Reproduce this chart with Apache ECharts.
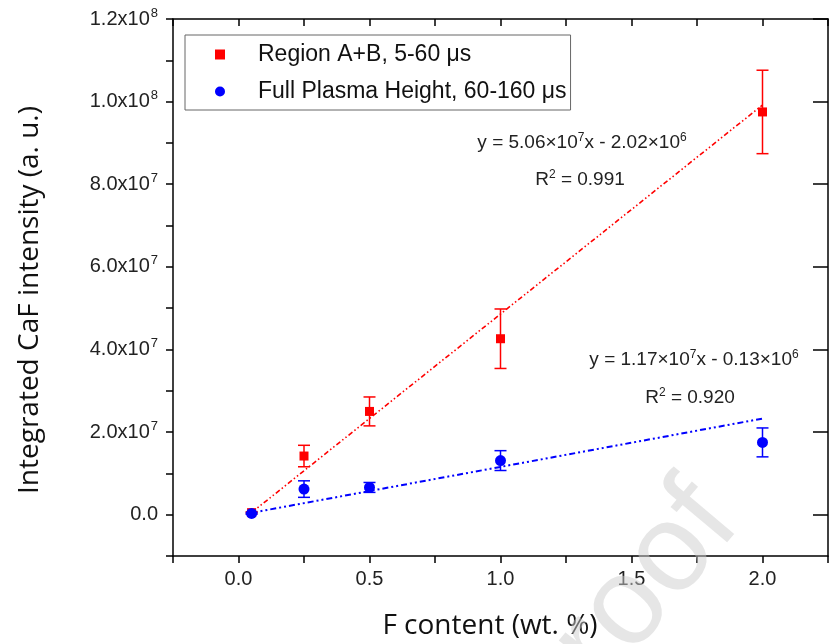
<!DOCTYPE html>
<html>
<head>
<meta charset="utf-8">
<script src="https://cdn.jsdelivr.net/npm/echarts@6/dist/echarts.min.js"></script>
<style>
  html, body { margin: 0; padding: 0; background: #fff; }
  #chart { width: 831px; height: 644px; }
</style>
</head>
<body>
<div id="chart"></div>
<script>
// F content (wt. %) of each sample
const fContent = [0.05, 0.25, 0.5, 1.0, 2.0];

// Region A+B, 5-60 µs
const regionAB = [0.05e7, 1.42e7, 2.50e7, 4.26e7, 9.75e7];
const regionABErr = [0.02e7, 0.26e7, 0.35e7, 0.72e7, 1.01e7];

// Full plasma height, 60-160 µs
const fullPlasma = [0.03e7, 0.62e7, 0.66e7, 1.31e7, 1.75e7];
const fullPlasmaErr = [0.02e7, 0.20e7, 0.12e7, 0.24e7, 0.35e7];

// Linear fits: [slope, intercept]
const fitAB = [5.06e7, -2.02e6];
const fitFull = [1.17e7, -0.13e6];
const fitRange = [0.05, 2.0];

// Labelled intensity ticks
const yMajorTicks = [0, 2e7, 4e7, 6e7, 8e7, 1e8, 1.2e8];

const seriesNames = ['Region A+B, 5-60 \u03bcs', 'Full Plasma Height, 60-160 \u03bcs'];

const RED = '#ff0000';
const BLUE = '#0000ff';
const TICK_FONT = '"Liberation Sans", Arial, sans-serif';
const TITLE_FONT = '"Open Sans", "Noto Sans", sans-serif';

function pts(xs, ys) { return xs.map((x, i) => [x, ys[i]]); }
function errPts(xs, ys, es) { return xs.map((x, i) => [x, ys[i], es[i]]); }
function fitLine(fit) { return fitRange.map(x => [x, fit[0] * x + fit[1]]); }

function yLabel(v) {
  if (yMajorTicks.indexOf(v) < 0) return '';
  if (v === 0) return '{m|0.0}';
  const exp = Math.floor(Math.log10(Math.abs(v)) + 1e-9);
  const mant = (v / Math.pow(10, exp)).toFixed(1);
  return '{m|' + mant + 'x10}{s|' + exp + '}';
}

function errorBar(color, cap) {
  return function (params, api) {
    const x = api.value(0), y = api.value(1), e = api.value(2);
    const top = api.coord([x, y + e]);
    const bot = api.coord([x, y - e]);
    const style = { stroke: color, lineWidth: 1.5, fill: null };
    return {
      type: 'group',
      children: [
        { type: 'line', shape: { x1: top[0], y1: top[1], x2: bot[0], y2: bot[1] }, style },
        { type: 'line', shape: { x1: top[0] - cap, y1: top[1], x2: top[0] + cap, y2: top[1] }, style },
        { type: 'line', shape: { x1: bot[0] - cap, y1: bot[1], x2: bot[0] + cap, y2: bot[1] }, style }
      ]
    };
  };
}

// Equation text with superscript exponents
const eqRich = {
  n: { fontFamily: TICK_FONT, fontSize: 19, fill: '#222' },
  s: { fontFamily: TICK_FONT, fontSize: 12, fill: '#222', verticalAlign: 'bottom', padding: [0, 0, 11, 0] }
};
function eqText(x, y, text) {
  return { type: 'text', x, y, style: { text, align: 'center', verticalAlign: 'middle', rich: eqRich } };
}

const axisLineStyle = { color: '#000', width: 1.5 };

const chart = echarts.init(document.getElementById('chart'), null, { renderer: 'canvas' });

chart.setOption({
  animation: false,
  backgroundColor: '#fff',
  grid: { left: 173, top: 19, right: -10, bottom: 88 },
  legend: {
    orient: 'vertical',
    left: 185,
    top: 35,
    padding: [8, 4, 7, 30],
    itemGap: 14,
    itemWidth: 10,
    itemHeight: 10,
    borderColor: '#666',
    borderWidth: 1,
    borderRadius: 0,
    data: [
      { name: seriesNames[0], icon: 'rect' },
      { name: seriesNames[1], icon: 'circle' }
    ],
    textStyle: { fontFamily: TICK_FONT, fontSize: 23, color: '#111', padding: [0, 0, 0, 28] }
  },
  xAxis: [
    {
      type: 'value', position: 'bottom', min: -0.25, max: 2.25, interval: 0.25,
      axisLine: { onZero: false, lineStyle: axisLineStyle },
      axisTick: { inside: false, length: 7, lineStyle: { color: '#000', width: 1.5 } },
      splitLine: { show: false },
      axisLabel: {
        margin: 13, fontFamily: TICK_FONT, fontSize: 20, color: '#222',
        formatter: v => (Math.abs(v * 2 - Math.round(v * 2)) < 1e-6 && v >= 0 && v <= 2) ? v.toFixed(1) : ''
      }
    },
    {
      type: 'value', position: 'top', min: -0.25, max: 2.25, interval: 0.25,
      axisLine: { onZero: false, lineStyle: axisLineStyle },
      axisTick: { inside: true, length: 7, lineStyle: { color: '#000', width: 1.5 } },
      axisLabel: { show: false }, splitLine: { show: false }
    }
  ],
  yAxis: [
    {
      type: 'value', position: 'left', min: -1e7, max: 1.2e8, interval: 1e7,
      axisLine: { onZero: false, lineStyle: axisLineStyle },
      axisTick: { inside: false, length: 7, lineStyle: { color: '#000', width: 1.5 } },
      splitLine: { show: false },
      axisLabel: {
        margin: 15, fontFamily: TICK_FONT, fontSize: 20, color: '#222',
        formatter: yLabel,
        rich: {
          m: { fontFamily: TICK_FONT, fontSize: 20, color: '#222' },
          s: { fontFamily: TICK_FONT, fontSize: 13, color: '#222', verticalAlign: 'bottom', padding: [0, 0, 12, 1] }
        }
      }
    },
    {
      type: 'value', position: 'right', min: -1e7, max: 1.2e8, interval: 1e7,
      axisLine: { onZero: false, lineStyle: axisLineStyle },
      axisTick: { inside: true, length: 15, customValues: yMajorTicks, lineStyle: { color: '#000', width: 1.5 } },
      axisLabel: { show: false }, splitLine: { show: false }
    }
  ],
  graphic: [
    {
      type: 'text', x: 30, y: 300, rotation: Math.PI / 2,
      style: {
        text: 'Integrated CaF intensity (a. u.)', fontFamily: TITLE_FONT, fontSize: 28,
        fill: '#111', align: 'center', verticalAlign: 'middle'
      }
    },
    {
      type: 'text', x: 490, y: 626,
      style: {
        text: 'F content (wt. %)', fontFamily: TITLE_FONT, fontSize: 28,
        fill: '#111', align: 'center', verticalAlign: 'middle'
      }
    },
    eqText(582, 143, '{n|y = 5.06\u00d710}{s|7}{n|x - 2.02\u00d710}{s|6}'),
    eqText(580, 180, '{n|R}{s|2}{n| = 0.991}'),
    eqText(694, 360, '{n|y = 1.17\u00d710}{s|7}{n|x - 0.13\u00d710}{s|6}'),
    eqText(690, 398, '{n|R}{s|2}{n| = 0.920}'),
    {
      type: 'text', x: 716, y: 502, rotation: 50 * Math.PI / 180, z: 100,
      style: {
        text: 'Proof', fontFamily: TICK_FONT, fontSize: 125,
        fill: 'rgba(205,205,205,0.5)', align: 'right', verticalAlign: 'middle'
      }
    }
  ],
  series: [
    {
      name: seriesNames[0] + ' fit', type: 'line', data: fitLine(fitAB), symbol: 'none', silent: true,
      lineStyle: { color: RED, width: 1.6, type: [5, 2.5, 1.5, 2.5, 1.5, 2.5] }, z: 2
    },
    {
      name: seriesNames[1] + ' fit', type: 'line', data: fitLine(fitFull), symbol: 'none', silent: true,
      lineStyle: { color: BLUE, width: 2, type: [6, 3, 2, 3, 2, 3] }, z: 2
    },
    {
      name: seriesNames[0] + ' err', type: 'custom', data: errPts(fContent, regionAB, regionABErr),
      renderItem: errorBar(RED, 6), encode: { x: 0, y: 1 }, z: 3
    },
    {
      name: seriesNames[1] + ' err', type: 'custom', data: errPts(fContent, fullPlasma, fullPlasmaErr),
      renderItem: errorBar(BLUE, 6), encode: { x: 0, y: 1 }, z: 3
    },
    {
      name: seriesNames[0], type: 'scatter', data: pts(fContent, regionAB),
      symbol: 'rect', symbolSize: 9, itemStyle: { color: RED, opacity: 1 }, z: 4
    },
    {
      name: seriesNames[1], type: 'scatter', data: pts(fContent, fullPlasma),
      symbol: 'circle', symbolSize: 11, itemStyle: { color: BLUE, opacity: 1 }, z: 5
    }
  ]
});
</script>
</body>
</html>
